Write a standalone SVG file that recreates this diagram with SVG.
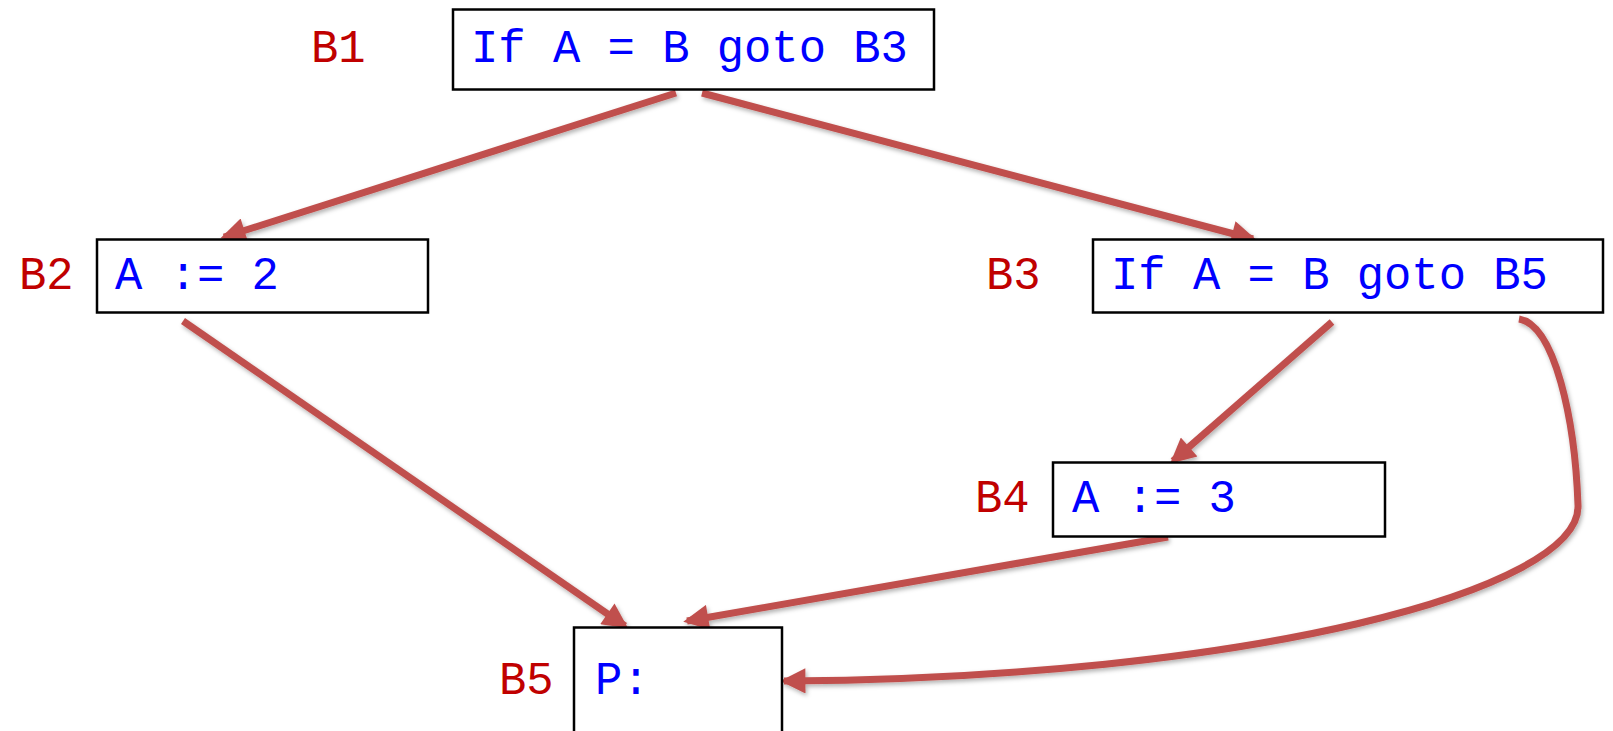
<svg xmlns="http://www.w3.org/2000/svg" width="1613" height="731" viewBox="0 0 1613 731">
<defs>
<style>
.box{fill:#fff;stroke:#000;stroke-width:2.5}
.code{font-family:"Liberation Mono","Courier New",monospace;font-size:45.5px;fill:#0000FF}
.lbl{font-family:"Liberation Mono","Courier New",monospace;font-size:45.5px;fill:#C00000}
.edge{fill:none;stroke:#C0504D;stroke-width:7;marker-end:url(#ah);filter:url(#sh)}
</style>
<marker id="ah" viewBox="0 0 10 10" refX="8.5" refY="5" markerWidth="4.2" markerHeight="3.6" orient="auto">
<path d="M0,0 L10,5 L0,10 z" fill="#C0504D"/>
</marker>
<filter id="sh" x="-10%" y="-10%" width="120%" height="120%">
<feDropShadow dx="1.5" dy="2.5" stdDeviation="2" flood-color="#000" flood-opacity="0.3"/>
</filter>
</defs>
<rect width="1613" height="731" fill="#fff"/>
<g id="connectors">
<path class="edge" d="M676,93 L224,237"/>
<path class="edge" d="M702,93 L1253,239"/>
<path class="edge" d="M183,321 L625,626"/>
<path class="edge" d="M1332,322 L1173,461"/>
<path class="edge" d="M1168,537 L687,621"/>
<path class="edge" d="M1519,319 C1555,325 1575,420 1578,505 C1582,590 1250,678 784,681"/>
</g>
<g id="B1">
<text class="lbl" x="311" y="62">B1</text>
<rect class="box" x="453" y="9.5" width="481" height="80"/>
<text class="code" x="471" y="62">If A = B goto B3</text>
</g>
<g id="B2">
<text class="lbl" x="19" y="289">B2</text>
<rect class="box" x="97" y="239.5" width="331" height="73"/>
<text class="code" x="115" y="289">A := 2</text>
</g>
<g id="B3">
<text class="lbl" x="986" y="289">B3</text>
<rect class="box" x="1093" y="239.5" width="510" height="73"/>
<text class="code" x="1111" y="289">If A = B goto B5</text>
</g>
<g id="B4">
<text class="lbl" x="975" y="512">B4</text>
<rect class="box" x="1053" y="462.5" width="332" height="74"/>
<text class="code" x="1072" y="512">A := 3</text>
</g>
<g id="B5">
<text class="lbl" x="499" y="694">B5</text>
<rect class="box" x="574" y="627.5" width="208" height="120"/>
<text class="code" x="595" y="694">P:</text>
</g>
</svg>
